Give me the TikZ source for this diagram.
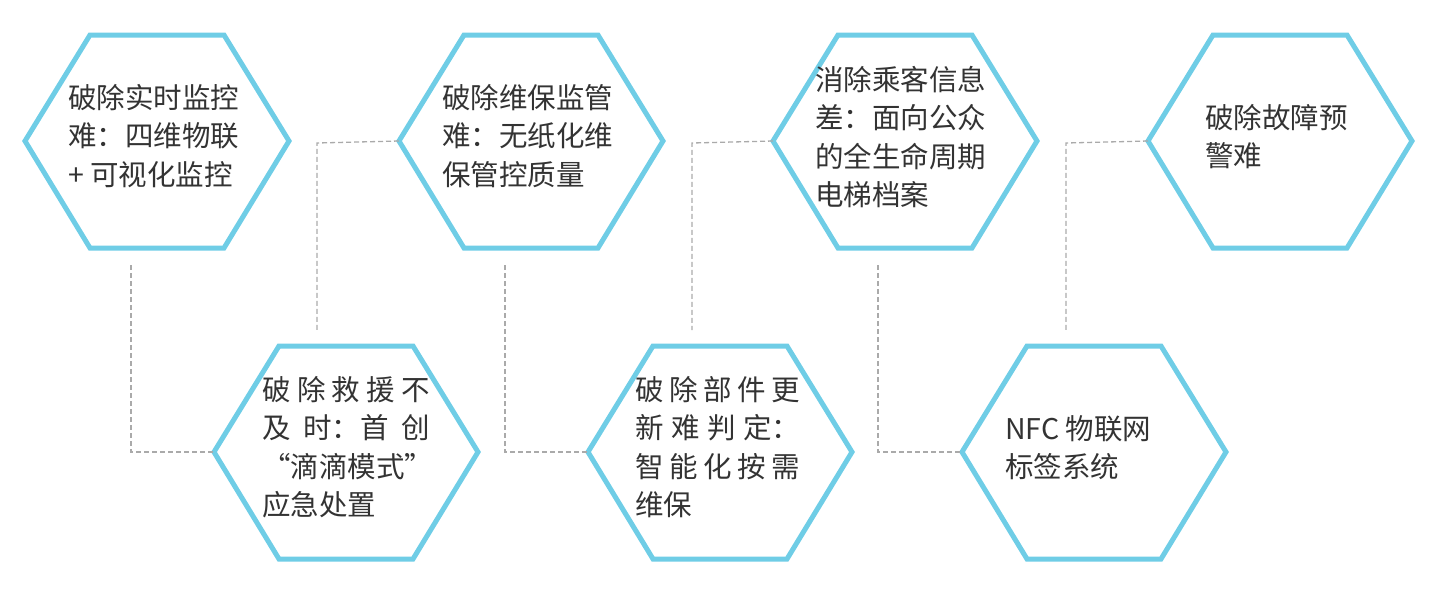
\documentclass[tikz,border=0pt]{standalone}
\usepackage{fontspec}
\newfontfamily\cjk{Noto Sans CJK SC}
\definecolor{hexc}{HTML}{6FCDE6}
\definecolor{txt}{HTML}{333333}
\definecolor{dsh}{HTML}{AAAAAA}
\newcommand\hexat[2]{%
  \coordinate (#1) at (#2);
  \draw[hexline] ([shift={(-132,0)}]#1) -- ([shift={(-67,-106)}]#1) -- ([shift={(67,-106)}]#1) -- ([shift={(132,0)}]#1) -- ([shift={(67,107)}]#1) -- ([shift={(-67,107)}]#1) -- cycle;
  \coordinate (#1L) at ([shift={(-132,0)}]#1);
}
\begin{document}
\begin{tikzpicture}[x=1pt,y=-1pt,
  hexline/.style={draw=hexc,line width=5pt,line join=miter},
  lbl/.style={anchor=north west,align=left,text=txt,font=\cjk\fontsize{28.5}{38.5}\selectfont,inner sep=0pt},
  conn/.style={draw=dsh,dash pattern=on 5pt off 3pt,line width=1.3pt}]
\useasboundingbox (0,0) rectangle (1436,590);
\hexat{a}{157,141}
\hexat{b}{531,141}
\hexat{c}{905,141}
\hexat{d}{1280,141}
\hexat{e}{346,452}
\hexat{f}{720,452}
\hexat{g}{1094,452}
\node[lbl] (ta) at (68,84) {破除实时监控\\难：四维物联\\+ 可视化监控};
\node[lbl] (tb) at (442,84) {破除维保监管\\难：无纸化维\\保管控质量};
\node[lbl] (tc) at (815,66) {消除乘客信息\\差：面向公众\\的全生命周期\\电梯档案};
\node[lbl] (td) at (1205,104) {破除故障预\\警难};
\node[lbl,text width=168pt] (te) at (262,376) {破\hfill 除\hfill 救\hfill 援\hfill 不\\及\hfill 时：首\hfill 创\\“滴滴模式”\\应急处置};
\node[lbl,text width=165pt] (tf) at (635,376) {破\hfill 除\hfill 部\hfill 件\hfill 更\\新\hfill 难\hfill 判\hfill 定：\\智\hfill 能\hfill 化\hfill 按\hfill 需\\维保};
\node[lbl] (tg) at (1005,415) {NFC 物联网\\标签系统};
\coordinate (p1) at (131,265); \coordinate (p2) at (131,452);
\draw[conn] (p1) -- (p2) -- (eL);
\coordinate (q1) at (317,143); \coordinate (q2) at (317,330);
\draw[conn] (bL) -- (q1) -- (q2);
\coordinate (r1) at (505,265); \coordinate (r2) at (505,452);
\draw[conn] (r1) -- (r2) -- (fL);
\coordinate (s1) at (692,143); \coordinate (s2) at (692,330);
\draw[conn] (cL) -- (s1) -- (s2);
\coordinate (u1) at (878,265); \coordinate (u2) at (878,452);
\draw[conn] (u1) -- (u2) -- (gL);
\coordinate (v1) at (1066,143); \coordinate (v2) at (1066,330);
\draw[conn] (dL) -- (v1) -- (v2);
\end{tikzpicture}
\end{document}
